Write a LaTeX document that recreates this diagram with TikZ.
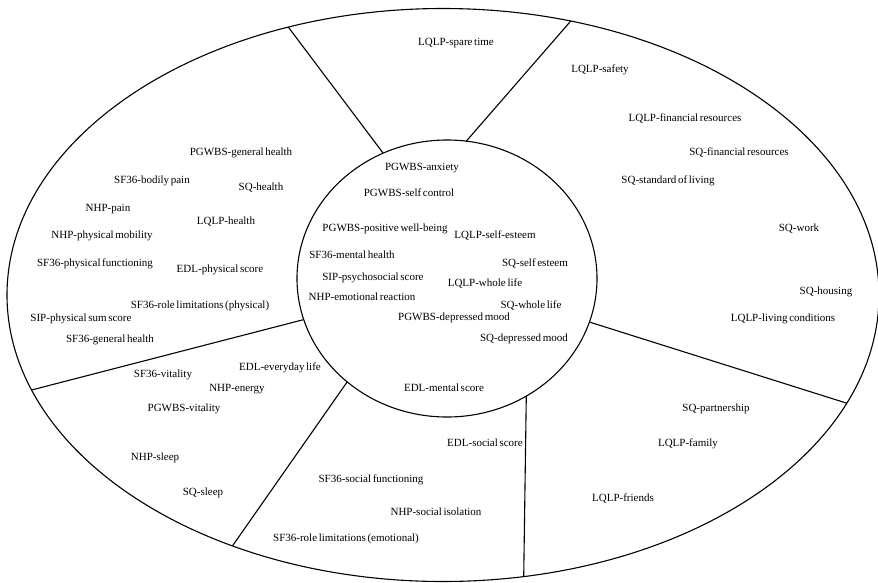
\documentclass[tikz,border=0pt]{standalone}
\usepackage{fontspec}
\setmainfont{Liberation Serif}[WordSpace=0.6]
\usetikzlibrary{shapes.geometric}

\tikzset{
  ring/.style={draw, ellipse, line width=1.1pt, inner sep=0pt, outer sep=0pt},
  divider/.style={line width=1.1pt},
  lbl/.style={inner sep=0pt, anchor=base, yshift=-3.5pt,
              font=\fontsize{11}{13}\selectfont}
}

\begin{document}
\begin{tikzpicture}[x=1pt, y=-1pt]
\useasboundingbox (0,0) rectangle (878,582);

% outer domain ring and central mental-health core
\node[ring, minimum width=872pt, minimum height=573pt] (outer) at (443,295) {};
\node[ring, minimum width=300pt, minimum height=277pt] (inner) at (447,278.5) {};

% sector dividers
\draw[divider] (inner.117.7) -- (outer.120.9);
\draw[divider] (inner.82.2)  -- (outer.65.2);
\draw[divider] (inner.196.7) -- (outer.193.0);
\draw[divider] (inner.226.3) -- (outer.230.0);
\draw[divider] (inner.304.0) -- (outer.286.4);
\draw[divider] (inner.343.2) -- (outer.345.2);

% leisure
\node[lbl] (t1) at (456,42) {LQLP-spare time};

% material conditions
\node[lbl] (r1) at (600,69)  {LQLP-safety};
\node[lbl] (r2) at (685,118) {LQLP-financial resources};
\node[lbl] (r3) at (739,152) {SQ-financial resources};
\node[lbl] (r4) at (668,180) {SQ-standard of living};
\node[lbl] (r5) at (799,228) {SQ-work};
\node[lbl] (r6) at (826,291) {SQ-housing};
\node[lbl] (r7) at (783,318) {LQLP-living conditions};

% physical health
\node[lbl] (p1)  at (241,152) {PGWBS-general health};
\node[lbl] (p2)  at (152,180) {SF36-bodily pain};
\node[lbl] (p3)  at (261,187) {SQ-health};
\node[lbl] (p4)  at (108,208) {NHP-pain};
\node[lbl] (p5)  at (226,221) {LQLP-health};
\node[lbl] (p6)  at (102,235) {NHP-physical mobility};
\node[lbl] (p7)  at (95,263)  {SF36-physical functioning};
\node[lbl] (p8)  at (220,269) {EDL-physical score};
\node[lbl] (p9)  at (200,305) {SF36-role limitations (physical)};
\node[lbl] (p10) at (81,318)  {SIP-physical sum score};
\node[lbl] (p11) at (110,339) {SF36-general health};

% vitality and sleep
\node[lbl] (v1) at (280,367) {EDL-everyday life};
\node[lbl] (v2) at (163,374) {SF36-vitality};
\node[lbl] (v3) at (237,388) {NHP-energy};
\node[lbl] (v4) at (184,408) {PGWBS-vitality};
\node[lbl] (v5) at (155,457) {NHP-sleep};
\node[lbl] (v6) at (203,492) {SQ-sleep};

% social functioning
\node[lbl] (s1) at (485,443) {EDL-social score};
\node[lbl] (s2) at (371,479) {SF36-social functioning};
\node[lbl] (s3) at (436,512) {NHP-social isolation};
\node[lbl] (s4) at (346,538) {SF36-role limitations (emotional)};

% family and friends
\node[lbl] (f1) at (716,408) {SQ-partnership};
\node[lbl] (f2) at (688,443) {LQLP-family};
\node[lbl] (f3) at (623,498) {LQLP-friends};

% mental well-being (core)
\node[lbl] (m1)  at (422,167) {PGWBS-anxiety};
\node[lbl] (m2)  at (409,193) {PGWBS-self control};
\node[lbl] (m3)  at (385,228) {PGWBS-positive well-being};
\node[lbl] (m4)  at (495,235) {LQLP-self-esteem};
\node[lbl] (m5)  at (352,255) {SF36-mental health};
\node[lbl] (m6)  at (535,263) {SQ-self esteem};
\node[lbl] (m7)  at (373,277) {SIP-psychosocial score};
\node[lbl] (m8)  at (485,283) {LQLP-whole life};
\node[lbl] (m9)  at (362,297) {NHP-emotional reaction};
\node[lbl] (m10) at (531,305) {SQ-whole life};
\node[lbl] (m11) at (454,317) {PGWBS-depressed mood};
\node[lbl] (m12) at (524,338) {SQ-depressed mood};
\node[lbl] (m13) at (444,388) {EDL-mental score};
\end{tikzpicture}
\end{document}
